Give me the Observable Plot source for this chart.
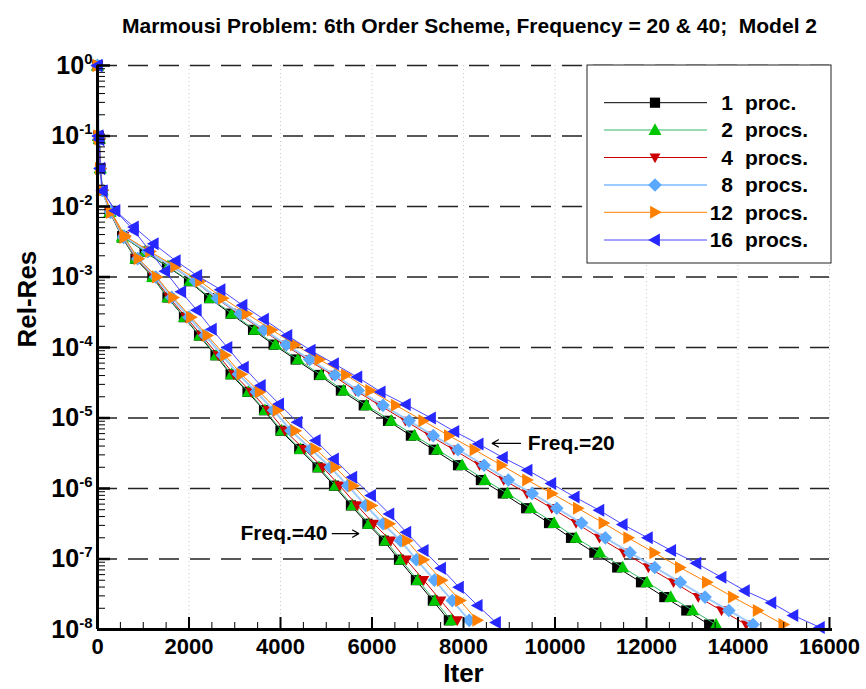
<!DOCTYPE html>
<html><head><meta charset="utf-8">
<script src="https://cdn.jsdelivr.net/npm/d3@7"></script>
<script src="https://cdn.jsdelivr.net/npm/@observablehq/plot@0.6"></script>
<style>
body{margin:0;background:#fff;}
#chart{width:866px;height:689px;}
svg text{white-space:pre;}
</style></head><body><div id="chart"></div>
<script>
// ---------- text ----------
const titleText = "Marmousi Problem: 6th Order Scheme, Frequency = 20 & 40;  Model 2";
const xTitle = "Iter";
const yTitle = "Rel-Res";
const legendNums = ["1", "2", "4", "8", "12", "16"];
const legendWords = ["proc.", "procs.", "procs.", "procs.", "procs.", "procs."];

// ---------- ticks ----------
const xTicks = [0, 2000, 4000, 6000, 8000, 10000, 12000, 14000, 16000];
const yTickExps = [0, -1, -2, -3, -4, -5, -6, -7, -8];

// ---------- data: Frequency = 20 (iterations, log10 of relative residual) ----------
const f20_log = [0,-1.00,-1.04,-1.46,-1.77,-2.08,-2.42,-2.64,-2.85,-3.06,-3.30,-3.52,-3.75,-3.96,-4.17,-4.39,-4.61,-4.82,-5.04,-5.25,-5.45,-5.67,-5.88,-6.07,-6.28,-6.49,-6.70,-6.91,-7.12,-7.33,-7.54,-7.73,-7.93];
const f20_p1_iter = [0,20,40,60,100,270,540,1030,1520,2000,2440,2910,3400,3850,4330,4840,5320,5820,6350,6850,7350,7880,8380,8860,9370,9870,10350,10860,11360,11880,12390,12870,13370];
const f20_p2_iter = [0,20,40,60,100,275,545,1040,1540,2020,2470,2940,3440,3890,4380,4890,5380,5880,6420,6930,7430,7970,8470,8960,9470,9980,10460,10980,11480,12010,12530,13010,13520];
const f20_p4_iter = [0,20,40,60,105,285,575,1090,1610,2120,2590,3080,3600,4080,4590,5130,5640,6170,6730,7260,7790,8350,8880,9390,9930,10460,10970,11510,12040,12590,13130,13640,14180];
const f20_p8_iter = [0,20,40,60,105,290,580,1100,1630,2140,2620,3120,3640,4130,4640,5190,5700,6240,6810,7340,7880,8450,8980,9500,10040,10580,11100,11640,12180,12740,13280,13800,14330];
const f20_p12_iter = [0,20,40,60,110,300,605,1150,1700,2240,2740,3260,3810,4320,4850,5430,5960,6520,7120,7680,8240,8830,9390,9930,10500,11060,11600,12170,12730,13320,13890,14430,14990];
const f20_p16_iter = [0,20,40,60,110,390,795,1230,1710,2180,2690,3170,3640,4150,4660,5170,5680,6190,6740,7290,7800,8330,8860,9400,9920,10430,10970,11480,12030,12540,13090,13640,14150,14730,15210,15790];
const f20_p16_log = [0,-1.00,-1.05,-1.46,-1.78,-2.06,-2.29,-2.53,-2.77,-2.98,-3.18,-3.40,-3.60,-3.83,-4.04,-4.23,-4.42,-4.63,-4.81,-5.00,-5.19,-5.37,-5.56,-5.74,-5.93,-6.12,-6.31,-6.51,-6.70,-6.88,-7.06,-7.26,-7.45,-7.62,-7.80,-7.97];

// ---------- data: Frequency = 40 ----------
const f40_log = [0,-1.00,-1.04,-1.46,-1.77,-2.08,-2.44,-2.74,-3.00,-3.29,-3.57,-3.83,-4.11,-4.38,-4.63,-4.89,-5.18,-5.44,-5.70,-5.96,-6.24,-6.50,-6.74,-7.01,-7.30,-7.59,-7.87];
const f40_p1_iter = [0,20,40,60,100,270,540,830,1200,1530,1890,2220,2580,2910,3280,3640,4000,4410,4810,5170,5540,5900,6260,6590,6960,7330,7680];
const f40_p2_iter = [0,20,40,60,100,270,545,835,1205,1540,1900,2235,2595,2930,3300,3660,4025,4435,4840,5200,5575,5935,6300,6630,7000,7375,7730];
const f40_p4_iter = [0,20,40,60,105,275,555,850,1230,1565,1935,2275,2640,2980,3360,3730,4095,4515,4925,5295,5675,6040,6410,6750,7130,7505,7865];
const f40_p8_iter = [0,20,40,60,105,285,570,880,1270,1620,2000,2350,2730,3080,3470,3850,4230,4665,5090,5470,5860,6240,6625,6970,7365,7755,8125];
const f40_p12_iter = [0,20,40,60,110,290,585,895,1295,1655,2045,2400,2790,3145,3545,3935,4325,4765,5200,5590,5990,6380,6765,7125,7525,7925,8300];
const f40_p16_iter = [0,20,40,60,110,390,795,1130,1480,1830,2170,2500,2840,3200,3570,3970,4370,4770,5170,5570,5980,6380,6750,7130,7510,7900,8310,8710];
const f40_p16_log = [0,-1.00,-1.05,-1.46,-1.78,-2.06,-2.34,-2.62,-2.92,-3.21,-3.47,-3.74,-4.00,-4.28,-4.54,-4.80,-5.06,-5.32,-5.58,-5.84,-6.10,-6.36,-6.62,-6.88,-7.13,-7.40,-7.66,-7.90];

// ---------- annotations ----------
const noteText = ["Freq.=20", "Freq.=40"];
const noteIter = [9405, 3126];
const noteLog = [-5.36, -6.64];
const arrowFromIter = [9246, 5130];
const arrowToIter = [8627, 5711];

// ---------- styles ----------
function poly(pts){
  return {draw(ctx, size){
    const h = Math.sqrt(size/Math.PI);
    ctx.moveTo(pts[0][0]*h, pts[0][1]*h);
    for (let i=1;i<pts.length;i++) ctx.lineTo(pts[i][0]*h, pts[i][1]*h);
    ctx.closePath();
  }};
}
const symSquare = poly([[-0.85,-0.85],[0.85,-0.85],[0.85,0.85],[-0.85,0.85]]);
const symUp = poly([[0,-1.05],[1,0.75],[-1,0.75]]);
const symDown = poly([[0,1.05],[1,-0.75],[-1,-0.75]]);
const symDiamond = poly([[0,-1.05],[1.05,0],[0,1.05],[-1.05,0]]);
const symRight = poly([[1.05,0],[-0.75,-1],[-0.75,1]]);
const symLeft = poly([[-1.05,0],[0.75,-1],[0.75,1]]);

const styles = [
  {line:"#000000", fill:"#000000", sym:symSquare, r:6, w:1},
  {line:"#33b864", fill:"#00c800", sym:symUp, r:6.5, w:1},
  {line:"#cc0000", fill:"#cc0000", sym:symDown, r:5.5, w:1},
  {line:"#9dcbff", fill:"#5aa9ff", sym:symDiamond, r:6.5, w:2},
  {line:"#ff8000", fill:"#ff8000", sym:symRight, r:6.5, w:1},
  {line:"#4848ff", fill:"#2727ff", sym:symLeft, r:6.5, w:1}
];

const series = [
  [f20_p1_iter, f20_log, 0], [f20_p2_iter, f20_log, 1], [f20_p4_iter, f20_log, 2],
  [f20_p8_iter, f20_log, 3], [f20_p12_iter, f20_log, 4], [f20_p16_iter, f20_p16_log, 5],
  [f40_p1_iter, f40_log, 0], [f40_p2_iter, f40_log, 1], [f40_p4_iter, f40_log, 2],
  [f40_p8_iter, f40_log, 3], [f40_p12_iter, f40_log, 4], [f40_p16_iter, f40_p16_log, 5]
].map(([it, lg, s]) => ({s, rows: it.map((x,i)=>({x, y: Math.pow(10, lg[i])}))}));

const seriesMarks = [];
for (const k of [0,1,2,3,4,5]) {
  for (const ser of series.filter(d=>d.s===k)) {
    const st = styles[k];
    seriesMarks.push(Plot.line(ser.rows, {x:"x", y:"y", stroke: st.line, strokeWidth: st.w}));
    seriesMarks.push(Plot.dot(ser.rows, {x:"x", y:"y", symbol: st.sym, r: st.r, fill: st.fill}));
  }
}

const W = 866, H = 689, mL = 97, mR = 37, mT = 65, mB = 60;
const innerW = W - mL - mR, innerH = H - mT - mB;
const decades = yTickExps.map(e => Math.pow(10, e));
const yMinor = [];
for (let e=-8; e<0; e++) for (let k=2;k<=9;k++) yMinor.push(k*Math.pow(10,e));
const xMinor = d3.range(0, 16001, 500).filter(v => v % 2000 !== 0);

const notes = noteText.map((t,i)=>({t, x: noteIter[i], y: Math.pow(10, noteLog[i]), x1: arrowFromIter[i], x2: arrowToIter[i]}));

const chart = Plot.plot({
  width: W, height: H,
  marginLeft: mL, marginRight: mR, marginTop: mT, marginBottom: mB,
  style: {fontFamily: "'Liberation Sans', Arial, Helvetica, sans-serif", background: "#fff", overflow: "visible"},
  x: {domain: [0, 16000], label: null},
  y: {type: "log", domain: [1e-8, 1], label: null},
  marks: [
    Plot.ruleX(xTicks.slice(1), {x: d=>d, stroke: "#c8c8c8", strokeDasharray: "1,3", strokeWidth: 1}),
    Plot.ruleY(decades.slice(0, -1), {y: d=>d, stroke: "#222", strokeWidth: 1.4, strokeDasharray: "20,11"}),
    ...seriesMarks,
    Plot.ruleY(yMinor, {y: d=>d, insetRight: innerW - 8, stroke: "#000", strokeWidth: 1}),
    Plot.ruleY(decades, {y: d=>d, insetRight: innerW - 13, stroke: "#000", strokeWidth: 2.5}),
    Plot.ruleX(xMinor, {x: d=>d, insetTop: innerH - 7, stroke: "#000", strokeWidth: 1}),
    Plot.ruleX(xTicks, {x: d=>d, insetTop: innerH - 12, stroke: "#000", strokeWidth: 2}),
    Plot.ruleX([0], {x: d=>d, stroke: "#000", strokeWidth: 3}),
    Plot.ruleY([1e-8], {y: d=>d, stroke: "#000", strokeWidth: 3, insetRight: -3}),
    Plot.axisX({ticks: xTicks, tickSize: 0, tickPadding: 9, tickFormat: d3.format("d"), fontSize: 22, fontWeight: "bold", label: null}),
    Plot.axisY({ticks: decades, tickSize: 0, tickPadding: 5, tickFormat: d => String(Math.round(Math.log10(d))), fontSize: 25, fontWeight: "bold", label: null}),
    Plot.text(notes, {x: "x", y: "y", text: "t", textAnchor: "start", fontSize: 21, fontWeight: "bold"}),
    Plot.arrow(notes, {x1: "x1", x2: "x2", y1: "y", y2: "y", stroke: "#000", strokeWidth: 1.2, headLength: 9}),
    Plot.text([titleText], {text: d=>d, frameAnchor: "top", dy: -47, dx: 6, fontSize: 21, fontWeight: "bold"}),
    Plot.text([yTitle], {text: d=>d, frameAnchor: "left", dx: -70, rotate: -90, fontSize: 26, fontWeight: "bold"}),
    Plot.text([xTitle], {text: d=>d, frameAnchor: "bottom", dy: 52, fontSize: 26, fontWeight: "bold"})
  ]
});

document.getElementById("chart").appendChild(chart);
const svg = d3.select(chart);

// superscript exponents on the y tick labels
svg.selectAll('g[aria-label="y-axis tick label"] text').each(function(){
  const t = d3.select(this);
  const exp = t.text();
  t.text(null).attr("font-weight", "bold");
  t.append("tspan").attr("font-size", 25).text("10");
  t.append("tspan").attr("font-size", 15).attr("dy", "-10").text(exp);
});
svg.selectAll('g[aria-label="x-axis tick label"] text').attr("font-weight", "bold");

// legend
const lg = svg.append("g").attr("font-weight", "bold").attr("font-size", 21);
lg.append("rect").attr("x", 587).attr("y", 65).attr("width", 244).attr("height", 198)
  .attr("fill", "#fff").attr("stroke", "#222").attr("stroke-width", 1);
const rowsY = [102.7, 130, 157.5, 185, 212.3, 240];
styles.forEach((st, i) => {
  const y = rowsY[i];
  lg.append("line").attr("x1", 604).attr("x2", 707).attr("y1", y).attr("y2", y)
    .attr("stroke", st.line).attr("stroke-width", st.w);
  lg.append("path").attr("transform", `translate(655,${y})`)
    .attr("d", d3.symbol(st.sym, Math.PI*st.r*st.r)()).attr("fill", st.fill);
  lg.append("text").attr("x", 733).attr("y", y).attr("dy", "0.35em").attr("text-anchor", "end").text(legendNums[i]);
  lg.append("text").attr("x", 745).attr("y", y).attr("dy", "0.35em").attr("text-anchor", "start").text(legendWords[i]);
});
</script></body></html>
